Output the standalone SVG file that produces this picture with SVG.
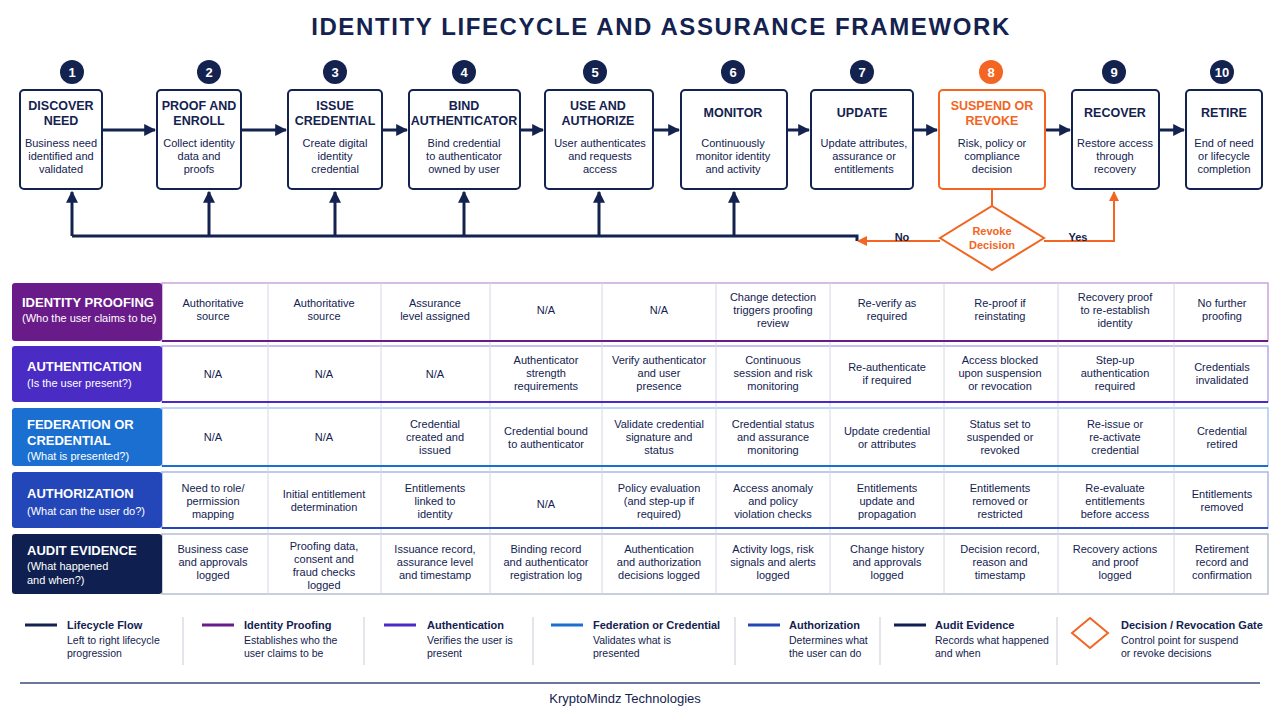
<svg xmlns="http://www.w3.org/2000/svg" width="1280" height="720" viewBox="0 0 1280 720">
<defs>
<marker id="ah" viewBox="0 0 10 10" refX="9" refY="5" markerWidth="4" markerHeight="4" orient="auto"><path d="M0,0L10,5L0,10z" fill="#13224f"/></marker>
<marker id="ao" viewBox="0 0 10 10" refX="9" refY="5" markerWidth="5" markerHeight="5" orient="auto"><path d="M0,0L10,5L0,10z" fill="#f26522"/></marker>
<style>
text{font-family:"Liberation Sans",Arial,sans-serif;text-anchor:middle;fill:#13224f}
.t{font-size:24px;font-weight:bold;letter-spacing:1.6px}
.h{font-size:12.5px;font-weight:bold}
.s{font-size:11px}
.n{font-size:13px;font-weight:bold;fill:#fff}
.box{fill:#fff;stroke:#13224f;stroke-width:2}
.c{font-size:11px}
.lh{font-size:13px;font-weight:bold;fill:#fff;text-anchor:start}
.ls{font-size:11px;fill:#fff;text-anchor:start}
.lg{font-size:11px;font-weight:bold;text-anchor:start}
.lgs{font-size:10.5px;text-anchor:start}
.fl{stroke:#13224f;stroke-width:3;fill:none}
</style>
</defs>
<rect width="1280" height="720" fill="#fff"/>
<text class="t" x="661" y="35">IDENTITY LIFECYCLE AND ASSURANCE FRAMEWORK</text>

<g id="connectors">
<g class="fl" marker-end="url(#ah)">
<line x1="102" y1="130" x2="155" y2="130"/>
<line x1="241" y1="130" x2="286" y2="130"/>
<line x1="382" y1="130" x2="407" y2="130"/>
<line x1="520" y1="130" x2="543" y2="130"/>
<line x1="653" y1="130" x2="679" y2="130"/>
<line x1="787" y1="130" x2="809" y2="130"/>
<line x1="913" y1="130" x2="937" y2="130"/>
<line x1="1045" y1="130" x2="1070" y2="130"/>
<line x1="1159" y1="130" x2="1184" y2="130"/>
<line x1="72" y1="236" x2="72" y2="192"/>
<line x1="209" y1="236" x2="209" y2="192"/>
<line x1="335" y1="236" x2="335" y2="192"/>
<line x1="464" y1="236" x2="464" y2="192"/>
<line x1="599" y1="236" x2="599" y2="192"/>
<line x1="734" y1="236" x2="734" y2="192"/>
</g>
<polyline class="fl" points="72,236 857,236 857,241"/>
<line x1="992" y1="189" x2="992" y2="206" stroke="#f26522" stroke-width="2"/>
<line x1="940" y1="241" x2="858" y2="241" stroke="#f26522" stroke-width="2" marker-end="url(#ao)"/>
<polyline points="1044,241 1114,241 1114,192" stroke="#f26522" stroke-width="2" fill="none" marker-end="url(#ao)"/>
<text class="s" x="902" y="241" style="font-weight:bold">No</text>
<text class="s" x="1078" y="241" style="font-weight:bold">Yes</text>
</g>

<g id="n1"><circle cx="72" cy="72" r="12" fill="#13224f"/><text class="n" x="72" y="77">1</text><rect class="box" x="20" y="90" width="82" height="99" rx="4"/><text class="h" x="61" y="110">DISCOVER</text><text class="h" x="61" y="125">NEED</text><text class="s" x="61" y="147">Business need</text><text class="s" x="61" y="160">identified and</text><text class="s" x="61" y="173">validated</text></g>
<g id="n2"><circle cx="209" cy="72" r="12" fill="#13224f"/><text class="n" x="209" y="77">2</text><rect class="box" x="157" y="90" width="84" height="99" rx="4"/><text class="h" x="199" y="110">PROOF AND</text><text class="h" x="199" y="125">ENROLL</text><text class="s" x="199" y="147">Collect identity</text><text class="s" x="199" y="160">data and</text><text class="s" x="199" y="173">proofs</text></g>
<g id="n3"><circle cx="335" cy="72" r="12" fill="#13224f"/><text class="n" x="335" y="77">3</text><rect class="box" x="288" y="90" width="94" height="99" rx="4"/><text class="h" x="335" y="110">ISSUE</text><text class="h" x="335" y="125">CREDENTIAL</text><text class="s" x="335" y="147">Create digital</text><text class="s" x="335" y="160">identity</text><text class="s" x="335" y="173">credential</text></g>
<g id="n4"><circle cx="464" cy="72" r="12" fill="#13224f"/><text class="n" x="464" y="77">4</text><rect class="box" x="409" y="90" width="111" height="99" rx="4"/><text class="h" x="464" y="110">BIND</text><text class="h" x="464" y="125">AUTHENTICATOR</text><text class="s" x="464" y="147">Bind credential</text><text class="s" x="464" y="160">to authenticator</text><text class="s" x="464" y="173">owned by user</text></g>
<g id="n5"><circle cx="595" cy="72" r="12" fill="#13224f"/><text class="n" x="595" y="77">5</text><rect class="box" x="545" y="90" width="108" height="99" rx="4"/><text class="h" x="598" y="110">USE AND</text><text class="h" x="598" y="125">AUTHORIZE</text><text class="s" x="600" y="147">User authenticates</text><text class="s" x="600" y="160">and requests</text><text class="s" x="600" y="173">access</text></g>
<g id="n6"><circle cx="733" cy="72" r="12" fill="#13224f"/><text class="n" x="733" y="77">6</text><rect class="box" x="681" y="90" width="106" height="99" rx="4"/><text class="h" x="733" y="117">MONITOR</text><text class="s" x="733" y="147">Continuously</text><text class="s" x="733" y="160">monitor identity</text><text class="s" x="733" y="173">and activity</text></g>
<g id="n7"><circle cx="862" cy="72" r="12" fill="#13224f"/><text class="n" x="862" y="77">7</text><rect class="box" x="811" y="90" width="102" height="99" rx="4"/><text class="h" x="862" y="117">UPDATE</text><text class="s" x="864" y="147">Update attributes,</text><text class="s" x="864" y="160">assurance or</text><text class="s" x="864" y="173">entitlements</text></g>
<g id="n8"><circle cx="991" cy="72" r="12" fill="#f26522"/><text class="n" x="991" y="77">8</text><rect x="939" y="90" width="106" height="99" rx="4" fill="#fff" stroke="#f26522" stroke-width="2"/><text class="h" x="992" y="110" style="fill:#f26522">SUSPEND OR</text><text class="h" x="992" y="125" style="fill:#f26522">REVOKE</text><text class="s" x="992" y="147">Risk, policy or</text><text class="s" x="992" y="160">compliance</text><text class="s" x="992" y="173">decision</text></g>
<g id="n9"><circle cx="1114" cy="72" r="12" fill="#13224f"/><text class="n" x="1114" y="77">9</text><rect class="box" x="1072" y="90" width="87" height="99" rx="4"/><text class="h" x="1115" y="117">RECOVER</text><text class="s" x="1115" y="147">Restore access</text><text class="s" x="1115" y="160">through</text><text class="s" x="1115" y="173">recovery</text></g>
<g id="n10"><circle cx="1222" cy="72" r="12" fill="#13224f"/><text class="n" x="1222" y="77">10</text><rect class="box" x="1186" y="90" width="76" height="99" rx="4"/><text class="h" x="1224" y="117">RETIRE</text><text class="s" x="1224" y="147">End of need</text><text class="s" x="1224" y="160">or lifecycle</text><text class="s" x="1224" y="173">completion</text></g>
<g id="gate"><polygon points="992,206 1044,238 992,270 940,238" fill="#fff" stroke="#f26522" stroke-width="2"/><text class="s" x="992" y="235" style="fill:#f26522;font-weight:bold">Revoke</text><text class="s" x="992" y="249" style="fill:#f26522;font-weight:bold">Decision</text></g>

<g id="table">
<g stroke-width="1.5">
<rect x="162" y="283" width="1106" height="58" fill="#fff" stroke="#c9a6dc"/>
<rect x="162" y="346" width="1106" height="56" fill="#fff" stroke="#b6a9ea"/>
<rect x="162" y="408" width="1106" height="58" fill="#fff" stroke="#a9c9ef"/>
<rect x="162" y="472" width="1106" height="56" fill="#fff" stroke="#aab8e6"/>
<rect x="162" y="534" width="1106" height="60" fill="#fff" stroke="#b9bfd0"/>
</g>
<g stroke="#d6d6e6" stroke-width="1">
<path d="M268,283V594M381,283V594M490,283V594M602,283V594M716,283V594M830,283V594M944,283V594M1058,283V594M1174,283V594"/>
</g>
<g stroke-width="2"><line x1="162" y1="341" x2="1268" y2="341" stroke="#6a1b8a"/><line x1="162" y1="402" x2="1268" y2="402" stroke="#4a2bc4"/><line x1="162" y1="466" x2="1268" y2="466" stroke="#1a6fd0"/><line x1="162" y1="528" x2="1268" y2="528" stroke="#2347b8"/></g>
<rect x="12" y="283" width="150" height="58" rx="3" fill="#6a1b8a"/>
<text class="lh" x="22" y="307">IDENTITY PROOFING</text><text class="ls" x="22" y="322">(Who the user claims to be)</text>
<rect x="12" y="346" width="150" height="56" rx="3" fill="#4a2bc4"/>
<text class="lh" x="27" y="371">AUTHENTICATION</text><text class="ls" x="27" y="387">(Is the user present?)</text>
<rect x="12" y="408" width="150" height="58" rx="3" fill="#1a6fd0"/>
<text class="lh" x="27" y="429">FEDERATION OR</text><text class="lh" x="27" y="445">CREDENTIAL</text><text class="ls" x="27" y="460">(What is presented?)</text>
<rect x="12" y="472" width="150" height="56" rx="3" fill="#2347b8"/>
<text class="lh" x="27" y="498">AUTHORIZATION</text><text class="ls" x="27" y="515">(What can the user do?)</text>
<rect x="12" y="534" width="150" height="60" rx="3" fill="#0f1f4f"/>
<text class="lh" x="27" y="555">AUDIT EVIDENCE</text><text class="ls" x="27" y="570">(What happened</text><text class="ls" x="27" y="584">and when?)</text>

<g class="c">
<text class="c" x="213" y="307">Authoritative</text><text class="c" x="213" y="320">source</text>
<text class="c" x="324" y="307">Authoritative</text><text class="c" x="324" y="320">source</text>
<text class="c" x="435" y="307">Assurance</text><text class="c" x="435" y="320">level assigned</text>
<text class="c" x="546" y="314">N/A</text>
<text class="c" x="659" y="314">N/A</text>
<text class="c" x="773" y="301">Change detection</text><text class="c" x="773" y="314">triggers proofing</text><text class="c" x="773" y="327">review</text>
<text class="c" x="887" y="307">Re-verify as</text><text class="c" x="887" y="320">required</text>
<text class="c" x="1000" y="307">Re-proof if</text><text class="c" x="1000" y="320">reinstating</text>
<text class="c" x="1115" y="301">Recovery proof</text><text class="c" x="1115" y="314">to re-establish</text><text class="c" x="1115" y="327">identity</text>
<text class="c" x="1222" y="307">No further</text><text class="c" x="1222" y="320">proofing</text>

<text class="c" x="213" y="378">N/A</text><text class="c" x="324" y="378">N/A</text><text class="c" x="435" y="378">N/A</text>
<text class="c" x="546" y="364">Authenticator</text><text class="c" x="546" y="377">strength</text><text class="c" x="546" y="390">requirements</text>
<text class="c" x="659" y="364">Verify authenticator</text><text class="c" x="659" y="377">and user</text><text class="c" x="659" y="390">presence</text>
<text class="c" x="773" y="364">Continuous</text><text class="c" x="773" y="377">session and risk</text><text class="c" x="773" y="390">monitoring</text>
<text class="c" x="887" y="371">Re-authenticate</text><text class="c" x="887" y="384">if required</text>
<text class="c" x="1000" y="364">Access blocked</text><text class="c" x="1000" y="377">upon suspension</text><text class="c" x="1000" y="390">or revocation</text>
<text class="c" x="1115" y="364">Step-up</text><text class="c" x="1115" y="377">authentication</text><text class="c" x="1115" y="390">required</text>
<text class="c" x="1222" y="371">Credentials</text><text class="c" x="1222" y="384">invalidated</text>

<text class="c" x="213" y="441">N/A</text><text class="c" x="324" y="441">N/A</text>
<text class="c" x="435" y="428">Credential</text><text class="c" x="435" y="441">created and</text><text class="c" x="435" y="454">issued</text>
<text class="c" x="546" y="435">Credential bound</text><text class="c" x="546" y="448">to authenticator</text>
<text class="c" x="659" y="428">Validate credential</text><text class="c" x="659" y="441">signature and</text><text class="c" x="659" y="454">status</text>
<text class="c" x="773" y="428">Credential status</text><text class="c" x="773" y="441">and assurance</text><text class="c" x="773" y="454">monitoring</text>
<text class="c" x="887" y="435">Update credential</text><text class="c" x="887" y="448">or attributes</text>
<text class="c" x="1000" y="428">Status set to</text><text class="c" x="1000" y="441">suspended or</text><text class="c" x="1000" y="454">revoked</text>
<text class="c" x="1115" y="428">Re-issue or</text><text class="c" x="1115" y="441">re-activate</text><text class="c" x="1115" y="454">credential</text>
<text class="c" x="1222" y="435">Credential</text><text class="c" x="1222" y="448">retired</text>

<text class="c" x="213" y="492">Need to role/</text><text class="c" x="213" y="505">permission</text><text class="c" x="213" y="518">mapping</text>
<text class="c" x="324" y="498">Initial entitlement</text><text class="c" x="324" y="511">determination</text>
<text class="c" x="435" y="492">Entitlements</text><text class="c" x="435" y="505">linked to</text><text class="c" x="435" y="518">identity</text>
<text class="c" x="546" y="508">N/A</text>
<text class="c" x="659" y="492">Policy evaluation</text><text class="c" x="659" y="505">(and step-up if</text><text class="c" x="659" y="518">required)</text>
<text class="c" x="773" y="492">Access anomaly</text><text class="c" x="773" y="505">and policy</text><text class="c" x="773" y="518">violation checks</text>
<text class="c" x="887" y="492">Entitlements</text><text class="c" x="887" y="505">update and</text><text class="c" x="887" y="518">propagation</text>
<text class="c" x="1000" y="492">Entitlements</text><text class="c" x="1000" y="505">removed or</text><text class="c" x="1000" y="518">restricted</text>
<text class="c" x="1115" y="492">Re-evaluate</text><text class="c" x="1115" y="505">entitlements</text><text class="c" x="1115" y="518">before access</text>
<text class="c" x="1222" y="498">Entitlements</text><text class="c" x="1222" y="511">removed</text>

<text class="c" x="213" y="553">Business case</text><text class="c" x="213" y="566">and approvals</text><text class="c" x="213" y="579">logged</text>
<text class="c" x="324" y="550">Proofing data,</text><text class="c" x="324" y="563">consent and</text><text class="c" x="324" y="576">fraud checks</text><text class="c" x="324" y="589">logged</text>
<text class="c" x="435" y="553">Issuance record,</text><text class="c" x="435" y="566">assurance level</text><text class="c" x="435" y="579">and timestamp</text>
<text class="c" x="546" y="553">Binding record</text><text class="c" x="546" y="566">and authenticator</text><text class="c" x="546" y="579">registration log</text>
<text class="c" x="659" y="553">Authentication</text><text class="c" x="659" y="566">and authorization</text><text class="c" x="659" y="579">decisions logged</text>
<text class="c" x="773" y="553">Activity logs, risk</text><text class="c" x="773" y="566">signals and alerts</text><text class="c" x="773" y="579">logged</text>
<text class="c" x="887" y="553">Change history</text><text class="c" x="887" y="566">and approvals</text><text class="c" x="887" y="579">logged</text>
<text class="c" x="1000" y="553">Decision record,</text><text class="c" x="1000" y="566">reason and</text><text class="c" x="1000" y="579">timestamp</text>
<text class="c" x="1115" y="553">Recovery actions</text><text class="c" x="1115" y="566">and proof</text><text class="c" x="1115" y="579">logged</text>
<text class="c" x="1222" y="553">Retirement</text><text class="c" x="1222" y="566">record and</text><text class="c" x="1222" y="579">confirmation</text>
</g>
</g>

<g id="legend">
<g stroke-width="3"><line x1="25" y1="625" x2="57" y2="625" stroke="#13224f"/><line x1="202" y1="625" x2="234" y2="625" stroke="#6a1b8a"/><line x1="384" y1="625" x2="416" y2="625" stroke="#4a2bc4"/><line x1="551" y1="625" x2="583" y2="625" stroke="#1a6fd0"/><line x1="748" y1="625" x2="780" y2="625" stroke="#2347b8"/><line x1="894" y1="625" x2="926" y2="625" stroke="#0f1f4f"/></g>
<polygon points="1090,618 1108,633 1090,648 1072,633" fill="#fff" stroke="#f26522" stroke-width="2"/>
<g stroke="#c8ccd6" stroke-width="1"><path d="M183,617V665M364,617V665M533,617V665M735,617V665M880,617V665M1057,617V665"/></g>
<text class="lg" x="67" y="629">Lifecycle Flow</text><text class="lgs" x="67" y="644">Left to right lifecycle</text><text class="lgs" x="67" y="657">progression</text>
<text class="lg" x="244" y="629">Identity Proofing</text><text class="lgs" x="244" y="644">Establishes who the</text><text class="lgs" x="244" y="657">user claims to be</text>
<text class="lg" x="427" y="629">Authentication</text><text class="lgs" x="427" y="644">Verifies the user is</text><text class="lgs" x="427" y="657">present</text>
<text class="lg" x="593" y="629">Federation or Credential</text><text class="lgs" x="593" y="644">Validates what is</text><text class="lgs" x="593" y="657">presented</text>
<text class="lg" x="789" y="629">Authorization</text><text class="lgs" x="789" y="644">Determines what</text><text class="lgs" x="789" y="657">the user can do</text>
<text class="lg" x="935" y="629">Audit Evidence</text><text class="lgs" x="935" y="644">Records what happened</text><text class="lgs" x="935" y="657">and when</text>
<text class="lg" x="1121" y="629">Decision / Revocation Gate</text><text class="lgs" x="1121" y="644">Control point for suspend</text><text class="lgs" x="1121" y="657">or revoke decisions</text>
</g>
<line x1="20" y1="683" x2="1260" y2="683" stroke="#3b4a7a" stroke-width="1.5"/>
<text x="625" y="703" style="font-size:13px">KryptoMindz Technologies</text>
</svg>
